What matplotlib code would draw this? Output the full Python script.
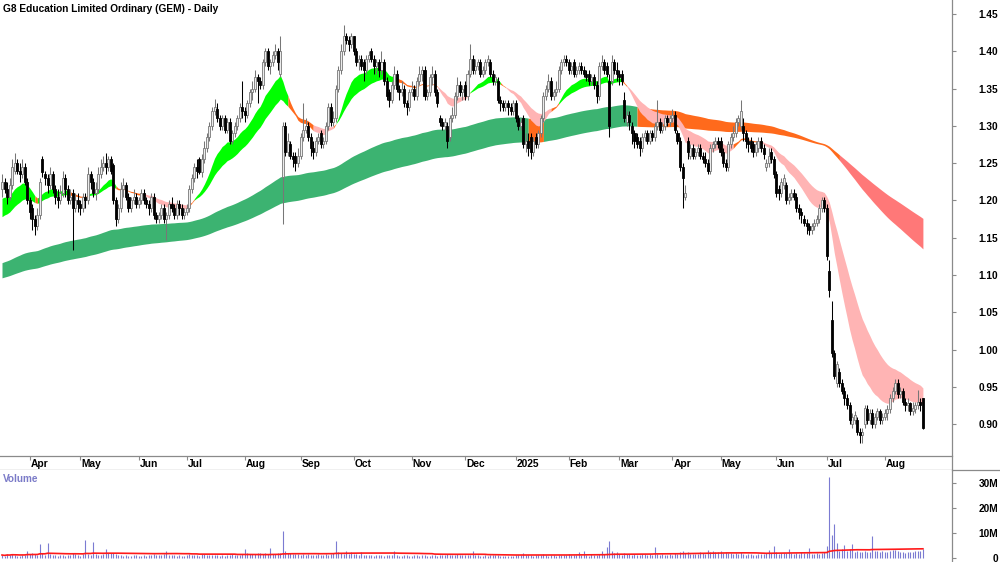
import numpy as np
import pandas as pd
import matplotlib
matplotlib.use("Agg")
import matplotlib.pyplot as plt
from matplotlib.lines import Line2D
from matplotlib import transforms

plt.rcParams['font.family'] = ['Liberation Sans', 'DejaVu Sans']

# ---------------- data ----------------
title = "G8 Education Limited Ordinary (GEM) - Daily"
start_date = "2024-03-14"
end_date = "2025-08-22"
holidays = ['2024-03-29', '2024-04-01', '2024-04-25', '2024-06-10', '2024-12-25', '2024-12-26',
            '2025-01-01', '2025-01-27', '2025-04-18', '2025-04-21', '2025-04-25', '2025-06-09']

closes = [
    1.225, 1.215, 1.205, 1.22, 1.245, 1.25, 1.24, 1.235, 1.245, 1.225,
    1.20, 1.185, 1.175, 1.165, 1.18, 1.225, 1.238, 1.23, 1.22, 1.235,
    1.215, 1.205, 1.20, 1.21, 1.23, 1.215, 1.20, 1.205, 1.19, 1.20,
    1.195, 1.19, 1.205, 1.20, 1.235, 1.225, 1.21, 1.215, 1.235, 1.245,
    1.25, 1.245, 1.255, 1.24, 1.20, 1.175, 1.19, 1.215, 1.22, 1.205,
    1.19, 1.20, 1.205, 1.195, 1.20, 1.21, 1.20, 1.195, 1.19, 1.205,
    1.18, 1.175, 1.18, 1.19, 1.175, 1.18, 1.195, 1.19, 1.18, 1.195,
    1.19, 1.18, 1.185, 1.19, 1.215, 1.23, 1.245, 1.24, 1.238, 1.255,
    1.27, 1.285, 1.30, 1.32, 1.325, 1.31, 1.30, 1.31, 1.295, 1.305,
    1.28, 1.29, 1.30, 1.31, 1.325, 1.32, 1.315, 1.33, 1.345, 1.35,
    1.365, 1.36, 1.355, 1.385, 1.40, 1.38, 1.385, 1.395, 1.40, 1.385,
    1.40, 1.30, 1.265, 1.28, 1.26, 1.255, 1.25, 1.26, 1.285, 1.295,
    1.30, 1.285, 1.27, 1.265, 1.28, 1.285, 1.275, 1.28, 1.30, 1.325,
    1.305, 1.31, 1.35, 1.375, 1.40, 1.42, 1.415, 1.41, 1.42, 1.40,
    1.385, 1.39, 1.38, 1.375, 1.39, 1.395, 1.39, 1.38, 1.385, 1.375,
    1.385, 1.36, 1.34, 1.335, 1.355, 1.37, 1.35, 1.345, 1.35, 1.33,
    1.325, 1.345, 1.35, 1.34, 1.36, 1.37, 1.375, 1.34, 1.345, 1.365,
    1.37, 1.345, 1.33, 1.305, 1.30, 1.305, 1.28, 1.31, 1.315, 1.34,
    1.355, 1.345, 1.35, 1.34, 1.37, 1.39, 1.375, 1.38, 1.385, 1.37,
    1.375, 1.385, 1.39, 1.37, 1.36, 1.365, 1.335, 1.33, 1.325, 1.33,
    1.325, 1.32, 1.33, 1.31, 1.30, 1.305, 1.275, 1.28, 1.27, 1.265,
    1.28, 1.275, 1.29, 1.31, 1.34, 1.35, 1.36, 1.34, 1.345, 1.35,
    1.375, 1.385, 1.39, 1.385, 1.375, 1.38, 1.37, 1.375, 1.38, 1.375,
    1.37, 1.365, 1.36, 1.365, 1.355, 1.34, 1.38, 1.385, 1.375, 1.37,
    1.30, 1.385, 1.375, 1.37, 1.365, 1.36, 1.31, 1.315, 1.305, 1.29,
    1.28, 1.275, 1.27, 1.285, 1.29, 1.28, 1.29, 1.285, 1.30, 1.305,
    1.295, 1.30, 1.31, 1.305, 1.31, 1.315, 1.295, 1.28, 1.245, 1.23,
    1.21, 1.265, 1.27, 1.26, 1.265, 1.27, 1.26, 1.255, 1.25, 1.24,
    1.27, 1.275, 1.28, 1.275, 1.265, 1.25, 1.245, 1.275, 1.285, 1.29,
    1.305, 1.31, 1.32, 1.29, 1.28, 1.275, 1.27, 1.265, 1.275, 1.28,
    1.27, 1.262, 1.25, 1.26, 1.255, 1.235, 1.21, 1.21, 1.225, 1.23,
    1.20, 1.205, 1.21, 1.205, 1.19, 1.185, 1.18, 1.17, 1.165, 1.16,
    1.165, 1.17, 1.175, 1.19, 1.20, 1.19, 1.125, 1.08, 0.995, 0.965,
    0.98, 0.955, 0.945, 0.935, 0.925, 0.905, 0.91, 0.912, 0.89, 0.885,
    0.89, 0.922, 0.905, 0.915, 0.90, 0.91, 0.918, 0.905, 0.91, 0.915,
    0.92, 0.935, 0.945, 0.955, 0.94, 0.945, 0.93, 0.925, 0.928, 0.918,
    0.922, 0.925, 0.93, 0.925, 0.895,
]

opens = [
    1.215, 1.225, 1.215, 1.205, 1.22, 1.24, 1.25, 1.24, 1.235, 1.245,
    1.225, 1.20, 1.19, 1.175, 1.165, 1.18, 1.255, 1.235, 1.23, 1.22,
    1.235, 1.215, 1.205, 1.20, 1.21, 1.23, 1.215, 1.20, 1.21, 1.19,
    1.20, 1.195, 1.19, 1.205, 1.20, 1.235, 1.225, 1.21, 1.215, 1.235,
    1.245, 1.25, 1.245, 1.255, 1.248, 1.20, 1.175, 1.19, 1.215, 1.22,
    1.205, 1.19, 1.20, 1.205, 1.195, 1.20, 1.21, 1.20, 1.195, 1.19,
    1.205, 1.18, 1.175, 1.18, 1.19, 1.175, 1.18, 1.195, 1.19, 1.18,
    1.195, 1.19, 1.18, 1.185, 1.19, 1.215, 1.23, 1.245, 1.255, 1.238,
    1.255, 1.27, 1.285, 1.30, 1.32, 1.322, 1.31, 1.30, 1.31, 1.295,
    1.305, 1.28, 1.29, 1.30, 1.31, 1.325, 1.32, 1.315, 1.33, 1.345,
    1.35, 1.365, 1.36, 1.355, 1.385, 1.40, 1.38, 1.385, 1.395, 1.40,
    1.37, 1.232, 1.30, 1.265, 1.275, 1.26, 1.26, 1.25, 1.26, 1.285,
    1.295, 1.30, 1.285, 1.27, 1.265, 1.28, 1.29, 1.275, 1.28, 1.30,
    1.325, 1.305, 1.31, 1.35, 1.375, 1.40, 1.42, 1.415, 1.41, 1.42,
    1.40, 1.385, 1.39, 1.385, 1.375, 1.39, 1.40, 1.39, 1.38, 1.385,
    1.375, 1.385, 1.36, 1.345, 1.335, 1.355, 1.37, 1.35, 1.345, 1.35,
    1.33, 1.325, 1.345, 1.35, 1.34, 1.36, 1.37, 1.375, 1.34, 1.345,
    1.365, 1.37, 1.345, 1.31, 1.305, 1.30, 1.30, 1.285, 1.31, 1.315,
    1.34, 1.355, 1.345, 1.355, 1.34, 1.37, 1.39, 1.375, 1.38, 1.385,
    1.37, 1.375, 1.385, 1.385, 1.37, 1.36, 1.36, 1.335, 1.33, 1.325,
    1.33, 1.325, 1.32, 1.33, 1.31, 1.30, 1.31, 1.275, 1.28, 1.285,
    1.265, 1.285, 1.275, 1.29, 1.31, 1.34, 1.35, 1.36, 1.34, 1.345,
    1.35, 1.375, 1.385, 1.39, 1.385, 1.375, 1.385, 1.37, 1.375, 1.38,
    1.375, 1.37, 1.37, 1.36, 1.365, 1.355, 1.34, 1.38, 1.385, 1.38,
    1.36, 1.36, 1.385, 1.375, 1.37, 1.37, 1.335, 1.305, 1.315, 1.30,
    1.29, 1.285, 1.28, 1.27, 1.285, 1.29, 1.28, 1.29, 1.285, 1.30,
    1.305, 1.295, 1.30, 1.31, 1.305, 1.31, 1.315, 1.29, 1.28, 1.245,
    1.205, 1.28, 1.26, 1.27, 1.26, 1.265, 1.27, 1.26, 1.255, 1.25,
    1.24, 1.27, 1.275, 1.28, 1.28, 1.265, 1.25, 1.245, 1.275, 1.285,
    1.29, 1.305, 1.30, 1.30, 1.29, 1.28, 1.28, 1.275, 1.265, 1.27,
    1.28, 1.27, 1.245, 1.25, 1.265, 1.255, 1.235, 1.215, 1.21, 1.22,
    1.22, 1.20, 1.205, 1.21, 1.205, 1.19, 1.185, 1.175, 1.17, 1.165,
    1.16, 1.165, 1.17, 1.175, 1.19, 1.20, 1.19, 1.105, 1.04, 0.995,
    0.955, 0.97, 0.955, 0.945, 0.935, 0.925, 0.90, 0.905, 0.905, 0.89,
    0.885, 0.90, 0.92, 0.905, 0.915, 0.90, 0.91, 0.918, 0.905, 0.91,
    0.915, 0.92, 0.935, 0.945, 0.955, 0.94, 0.945, 0.93, 0.925, 0.928,
    0.918, 0.92, 0.925, 0.93, 0.935,
]

highs = [
    1.235, 1.23, 1.225, 1.23, 1.255, 1.264, 1.255, 1.25, 1.255, 1.25,
    1.23, 1.205, 1.195, 1.18, 1.19, 1.23, 1.26, 1.24, 1.235, 1.245,
    1.24, 1.22, 1.215, 1.22, 1.24, 1.235, 1.22, 1.215, 1.215, 1.21,
    1.21, 1.20, 1.21, 1.21, 1.245, 1.24, 1.23, 1.225, 1.245, 1.255,
    1.26, 1.264, 1.26, 1.26, 1.25, 1.205, 1.195, 1.225, 1.23, 1.225,
    1.21, 1.205, 1.215, 1.21, 1.205, 1.215, 1.215, 1.205, 1.20, 1.21,
    1.21, 1.185, 1.185, 1.195, 1.195, 1.185, 1.20, 1.205, 1.195, 1.20,
    1.20, 1.195, 1.19, 1.195, 1.22, 1.235, 1.25, 1.255, 1.258, 1.262,
    1.28, 1.29, 1.305, 1.325, 1.336, 1.33, 1.315, 1.315, 1.315, 1.31,
    1.31, 1.295, 1.305, 1.315, 1.33, 1.36, 1.325, 1.335, 1.35, 1.36,
    1.375, 1.37, 1.365, 1.39, 1.405, 1.405, 1.39, 1.40, 1.41, 1.405,
    1.421, 1.305, 1.305, 1.29, 1.28, 1.265, 1.265, 1.27, 1.29, 1.33,
    1.31, 1.305, 1.29, 1.28, 1.285, 1.29, 1.295, 1.285, 1.305, 1.33,
    1.33, 1.32, 1.355, 1.38, 1.41, 1.435, 1.425, 1.42, 1.425, 1.42,
    1.405, 1.395, 1.395, 1.39, 1.395, 1.40, 1.405, 1.395, 1.39, 1.39,
    1.40, 1.39, 1.365, 1.35, 1.36, 1.38, 1.375, 1.355, 1.36, 1.355,
    1.335, 1.35, 1.36, 1.355, 1.365, 1.38, 1.38, 1.38, 1.35, 1.37,
    1.38, 1.375, 1.35, 1.315, 1.31, 1.31, 1.305, 1.315, 1.325, 1.345,
    1.365, 1.36, 1.355, 1.36, 1.375, 1.41, 1.395, 1.39, 1.39, 1.39,
    1.38, 1.39, 1.395, 1.39, 1.375, 1.37, 1.365, 1.34, 1.335, 1.335,
    1.335, 1.33, 1.335, 1.335, 1.315, 1.31, 1.315, 1.29, 1.29, 1.29,
    1.285, 1.29, 1.295, 1.315, 1.345, 1.355, 1.37, 1.365, 1.35, 1.36,
    1.38, 1.39, 1.395, 1.395, 1.39, 1.385, 1.39, 1.38, 1.385, 1.385,
    1.38, 1.375, 1.375, 1.37, 1.37, 1.36, 1.385, 1.395, 1.39, 1.385,
    1.37, 1.395, 1.39, 1.385, 1.375, 1.375, 1.345, 1.32, 1.32, 1.305,
    1.295, 1.29, 1.285, 1.29, 1.295, 1.295, 1.295, 1.295, 1.305, 1.335,
    1.31, 1.305, 1.315, 1.315, 1.315, 1.322, 1.32, 1.295, 1.285, 1.25,
    1.22, 1.285, 1.275, 1.275, 1.27, 1.275, 1.275, 1.265, 1.265, 1.255,
    1.275, 1.28, 1.285, 1.285, 1.285, 1.27, 1.255, 1.28, 1.29, 1.30,
    1.31, 1.315, 1.335, 1.31, 1.295, 1.285, 1.285, 1.28, 1.28, 1.285,
    1.285, 1.275, 1.255, 1.27, 1.27, 1.26, 1.24, 1.22, 1.23, 1.235,
    1.225, 1.21, 1.215, 1.215, 1.21, 1.195, 1.19, 1.18, 1.175, 1.17,
    1.17, 1.175, 1.18, 1.195, 1.205, 1.205, 1.195, 1.12, 1.065, 1.0,
    0.985, 0.975, 0.96, 0.95, 0.94, 0.93, 0.915, 0.918, 0.91, 0.895,
    0.895, 0.925, 0.925, 0.92, 0.92, 0.915, 0.922, 0.92, 0.915, 0.92,
    0.925, 0.94, 0.95, 0.96, 0.96, 0.95, 0.948, 0.935, 0.935, 0.93,
    0.93, 0.93, 0.946, 0.935, 0.935,
]

lows = [
    1.205, 1.21, 1.195, 1.20, 1.215, 1.235, 1.235, 1.225, 1.23, 1.22,
    1.195, 1.175, 1.16, 1.154, 1.16, 1.175, 1.232, 1.22, 1.21, 1.215,
    1.21, 1.195, 1.19, 1.195, 1.205, 1.205, 1.195, 1.195, 1.134, 1.185,
    1.185, 1.18, 1.185, 1.19, 1.195, 1.215, 1.205, 1.20, 1.21, 1.23,
    1.24, 1.235, 1.24, 1.235, 1.195, 1.165, 1.17, 1.185, 1.205, 1.20,
    1.185, 1.185, 1.195, 1.19, 1.19, 1.195, 1.195, 1.19, 1.18, 1.185,
    1.175, 1.17, 1.17, 1.175, 1.17, 1.147, 1.175, 1.185, 1.175, 1.175,
    1.18, 1.175, 1.175, 1.18, 1.185, 1.21, 1.225, 1.23, 1.235, 1.232,
    1.25, 1.265, 1.28, 1.295, 1.315, 1.305, 1.295, 1.295, 1.29, 1.29,
    1.275, 1.275, 1.285, 1.295, 1.305, 1.31, 1.305, 1.31, 1.325, 1.335,
    1.345, 1.33, 1.35, 1.35, 1.38, 1.375, 1.37, 1.38, 1.39, 1.375,
    1.365, 1.168, 1.26, 1.26, 1.255, 1.245, 1.24, 1.245, 1.255, 1.28,
    1.29, 1.28, 1.26, 1.255, 1.26, 1.275, 1.27, 1.27, 1.275, 1.295,
    1.30, 1.30, 1.305, 1.345, 1.37, 1.395, 1.41, 1.40, 1.405, 1.395,
    1.38, 1.375, 1.375, 1.36, 1.37, 1.385, 1.385, 1.37, 1.37, 1.365,
    1.37, 1.355, 1.335, 1.325, 1.33, 1.35, 1.345, 1.335, 1.34, 1.325,
    1.315, 1.32, 1.34, 1.335, 1.335, 1.355, 1.36, 1.335, 1.335, 1.34,
    1.355, 1.34, 1.325, 1.30, 1.295, 1.295, 1.27, 1.28, 1.305, 1.31,
    1.335, 1.34, 1.335, 1.335, 1.335, 1.365, 1.37, 1.37, 1.375, 1.365,
    1.365, 1.37, 1.38, 1.365, 1.355, 1.355, 1.33, 1.32, 1.32, 1.32,
    1.315, 1.315, 1.315, 1.305, 1.295, 1.295, 1.27, 1.265, 1.26, 1.255,
    1.26, 1.27, 1.27, 1.285, 1.305, 1.335, 1.345, 1.335, 1.335, 1.34,
    1.345, 1.37, 1.38, 1.38, 1.37, 1.37, 1.365, 1.365, 1.37, 1.37,
    1.365, 1.36, 1.355, 1.355, 1.35, 1.33, 1.335, 1.375, 1.37, 1.365,
    1.285, 1.355, 1.37, 1.36, 1.355, 1.355, 1.305, 1.30, 1.295, 1.275,
    1.27, 1.27, 1.26, 1.265, 1.28, 1.275, 1.275, 1.28, 1.28, 1.295,
    1.29, 1.29, 1.295, 1.30, 1.30, 1.305, 1.29, 1.275, 1.24, 1.19,
    1.20, 1.255, 1.255, 1.255, 1.255, 1.26, 1.255, 1.25, 1.245, 1.235,
    1.235, 1.265, 1.27, 1.27, 1.26, 1.245, 1.24, 1.24, 1.27, 1.28,
    1.285, 1.30, 1.295, 1.28, 1.27, 1.265, 1.265, 1.258, 1.26, 1.265,
    1.265, 1.255, 1.24, 1.245, 1.25, 1.23, 1.205, 1.20, 1.205, 1.215,
    1.195, 1.195, 1.20, 1.20, 1.185, 1.175, 1.17, 1.165, 1.155, 1.153,
    1.155, 1.16, 1.165, 1.17, 1.185, 1.185, 1.12, 1.07, 0.99, 0.96,
    0.95, 0.95, 0.94, 0.925, 0.92, 0.90, 0.895, 0.90, 0.885, 0.875,
    0.875, 0.895, 0.90, 0.90, 0.895, 0.895, 0.905, 0.90, 0.90, 0.905,
    0.905, 0.915, 0.93, 0.94, 0.935, 0.935, 0.925, 0.918, 0.918, 0.912,
    0.912, 0.915, 0.92, 0.918, 0.893,
]

# daily volume, millions of shares
volumes = [
    1.2, 0.9, 1.5, 1.1, 1.8, 1.3, 1.0, 0.9, 1.4, 1.2,
    2.7, 1.5, 1.9, 1.6, 1.2, 5.6, 2.0, 1.4, 6.0, 1.7,
    1.3, 1.1, 1.0, 1.4, 1.2, 0.9, 1.1, 1.3, 2.2, 1.5,
    1.2, 1.0, 1.6, 7.3, 1.8, 1.4, 6.4, 1.5, 1.2, 1.3,
    1.6, 3.6, 1.9, 2.2, 2.1, 1.8, 1.3, 1.2, 1.0, 1.1,
    1.0, 0.9, 1.2, 1.1, 0.8, 1.0, 1.3, 0.9, 1.1, 1.4,
    1.5, 1.3, 1.2, 1.1, 1.6, 3.0, 1.4, 1.2, 1.3, 1.0,
    1.1, 1.0, 0.9, 1.4, 1.6, 1.2, 1.1, 1.3, 1.0, 1.5,
    1.6, 1.2, 1.4, 1.1, 1.3, 1.2, 1.0, 1.1, 0.9, 1.2,
    1.3, 1.5, 1.1, 1.2, 1.4, 1.6, 3.6, 1.9, 1.5, 1.6,
    1.8, 2.1, 1.9, 1.7, 2.0, 1.8, 4.0, 1.7, 1.6, 2.2,
    2.0, 11.0, 3.0, 2.2, 1.9, 1.8, 1.6, 1.7, 1.4, 1.5,
    1.3, 1.6, 1.4, 1.2, 1.3, 1.5, 1.1, 1.4, 1.6, 1.3,
    1.5, 2.0, 7.0, 2.3, 2.0, 1.8, 3.0, 1.6, 2.4, 1.7,
    1.5, 1.4, 2.6, 1.3, 1.2, 1.1, 1.4, 1.0, 1.2, 1.3,
    1.1, 1.0, 1.2, 1.4, 1.1, 2.7, 1.3, 1.0, 0.9, 1.1,
    1.2, 1.0, 0.9, 1.1, 1.3, 1.0, 1.2, 1.1, 0.8, 1.0,
    1.1, 1.3, 1.0, 1.2, 1.4, 1.1, 1.5, 1.2, 1.3, 1.4,
    1.6, 1.2, 1.3, 1.1, 1.2, 1.4, 3.0, 1.3, 1.1, 1.0,
    0.9, 1.1, 1.0, 1.2, 1.3, 1.1, 1.4, 1.0, 0.9, 0.8,
    0.7, 0.9, 1.0, 1.2, 1.1, 1.3, 2.0, 1.2, 1.4, 1.1,
    1.0, 1.3, 1.2, 1.1, 1.5, 1.3, 1.0, 1.2, 1.1, 0.9,
    1.2, 1.4, 1.1, 1.3, 1.6, 1.2, 1.4, 1.1, 2.4, 1.3,
    2.7, 1.2, 1.0, 1.5, 1.3, 1.4, 1.6, 3.0, 1.5, 4.5,
    7.0, 2.8, 1.9, 2.5, 1.6, 1.4, 2.1, 1.8, 1.5, 1.3,
    1.6, 1.4, 1.2, 1.5, 1.7, 1.3, 1.8, 1.4, 4.4, 1.6,
    1.3, 1.5, 1.2, 1.4, 1.6, 1.3, 2.0, 1.8, 2.4, 2.8,
    2.1, 2.5, 1.6, 1.8, 1.5, 1.7, 2.3, 1.9, 1.6, 3.3,
    2.6, 2.9, 2.4, 2.5, 2.7, 2.2, 2.4, 1.9, 2.0, 1.8,
    2.2, 1.7, 2.5, 1.6, 1.4, 1.5, 1.8, 1.3, 1.2, 1.6,
    1.5, 1.7, 2.0, 3.2, 1.9, 5.0, 2.3, 1.8, 1.9, 2.1,
    1.9, 3.7, 2.2, 1.8, 2.0, 1.7, 2.5, 1.9, 2.2, 4.0,
    1.8, 1.6, 2.0, 1.7, 2.1, 2.4, 4.7, 32.4, 9.3, 13.7,
    6.0, 3.0, 3.6, 5.3, 3.0, 3.6, 5.6, 2.6, 3.0, 2.5,
    2.3, 2.9, 2.4, 2.6, 8.7, 2.7, 2.9, 2.4, 3.0, 2.6,
    2.3, 2.8, 3.2, 3.4, 2.7, 2.4, 2.5, 2.2, 2.6, 2.4,
    2.5, 2.7, 2.9, 3.0, 3.7,
]

# moving-average ribbon settings (periods) and their starting values at the left edge
short_spans = [16, 19, 22, 25, 28, 31]
short_seeds = [1.200, 1.195, 1.190, 1.185, 1.180, 1.175]
long_spans = [150, 165, 180, 195, 210, 230]
long_seeds = [1.115, 1.111, 1.107, 1.103, 1.099, 1.095]
volume_avg_window = 60

price_ticks = [0.90, 0.95, 1.00, 1.05, 1.10, 1.15, 1.20, 1.25, 1.30, 1.35, 1.40, 1.45]
volume_ticks = [0, 10, 20, 30]
volume_tick_labels = ['0', '10M', '20M', '30M']

# ---------------- preparation ----------------
dates = pd.bdate_range(start_date, end_date)
dates = dates[~dates.isin(pd.to_datetime(holidays))]
n = min(len(dates), len(closes), len(opens), len(highs), len(lows), len(volumes))
dates = dates[:n]
o = np.array(opens[:n]); c = np.array(closes[:n])
h = np.array(highs[:n]); l = np.array(lows[:n])
v = np.array(volumes[:n])
x = np.arange(n)


def ribbon(spans, seeds):
    rows = []
    for sp, sd in zip(spans, seeds):
        s = pd.Series(np.r_[sd, c]).ewm(span=sp, adjust=False).mean().values[1:]
        rows.append(s)
    return np.array(rows)


short_r = ribbon(short_spans, short_seeds)
long_r = ribbon(long_spans, long_seeds)


def order_state(r):
    d = np.diff(r, axis=0)
    bull = (d < 0).all(axis=0)     # fastest on top
    bear = (d > 0).all(axis=0)     # fastest at bottom
    return np.where(bull, 0, np.where(bear, 2, 1))


short_state = order_state(short_r)
long_state = order_state(long_r)
# long ribbon only counts as bullish while the fast average stays clear above it
above = short_r[0] > long_r.max(axis=0)
long_state = np.where((long_state == 0) & ~above, 1, long_state)


def draw_ribbon(ax, r, state, cols):
    lo = r.min(axis=0); hi = r.max(axis=0)
    a = 0
    while a < n:
        b = a
        while b + 1 < n and state[b + 1] == state[a]:
            b += 1
        s0 = max(a - 1, 0)
        ax.fill_between(x[s0:b + 1], lo[s0:b + 1], hi[s0:b + 1], color=cols[state[a]],
                        lw=0, zorder=2)
        a = b + 1


# ---------------- figure ----------------
W, H = 1000, 562
fig = plt.figure(figsize=(W / 100, H / 100), dpi=100)


def rect(x0, y0, x1, y1):
    return [x0 / W, 1 - y1 / H, (x1 - x0) / W, (y1 - y0) / H]


AXC = '#8a8a8a'
XL = (-0.79, 375.5)
ORANGE = '#ff6a1c'

axp = fig.add_axes(rect(0, 0, 952, 455))
axd = fig.add_axes(rect(0, 455.5, 952, 469.5))
axv = fig.add_axes(rect(0, 470, 952, 562))

# price panel
draw_ribbon(axp, long_r, long_state, ['#3cb371', ORANGE, '#ff7878'])
draw_ribbon(axp, short_r, short_state, ['#00ff00', ORANGE, '#ffb4b4'])

up = c >= o
axp.vlines(x[up], l[up], h[up], color='#777777', lw=0.75, zorder=3)
axp.vlines(x[~up], l[~up], h[~up], color='black', lw=0.75, zorder=3)
body_lo = np.minimum(o, c)
body_h = np.maximum(np.abs(c - o), 0.0018)
axp.bar(x[up], body_h[up], bottom=body_lo[up], width=0.8, color='#ececec',
        edgecolor='#777777', linewidth=0.6, zorder=4)
axp.bar(x[~up], body_h[~up], bottom=body_lo[~up], width=0.8, color='black',
        edgecolor='black', linewidth=0.6, zorder=4)

axp.set_xlim(*XL)
axp.set_ylim(0.8585, 1.4688)
axp.set_xticks([])
axp.yaxis.tick_right()
axp.set_yticks(price_ticks)
axp.set_yticklabels([f"{t:.2f}" for t in price_ticks])
for sp in ['top', 'left', 'bottom']:
    axp.spines[sp].set_visible(False)
axp.spines['right'].set_color(AXC)
axp.spines['right'].set_linewidth(0.9)
axp.tick_params(axis='y', direction='out', length=3, width=0.8, color=AXC,
                labelsize=7.3, pad=30.2, labelcolor='black')
for t in axp.get_yticklabels():
    t.set_horizontalalignment('right')
    t.set_fontweight('bold')

# date strip
month_pos, month_lab = [], []
for i in range(1, n):
    if dates[i].month != dates[i - 1].month:
        month_pos.append(i)
        month_lab.append(str(dates[i].year) if dates[i].month == 1 else dates[i].strftime('%b'))
axd.set_xlim(*XL)
axd.set_ylim(0, 1)
axd.set_yticks([])
axd.set_xticks(month_pos)
axd.tick_params(axis='x', top=True, bottom=False, direction='in', length=3, width=0.8,
                color=AXC, labelbottom=False)
axd.spines['left'].set_visible(False)
for sp in ['top', 'bottom', 'right']:
    axd.spines[sp].set_color(AXC)
    axd.spines[sp].set_linewidth(0.9)
off = transforms.offset_copy(axd.transData, fig=fig, x=1.0, y=0, units='dots')
blend = transforms.blended_transform_factory(off, axd.transAxes)
for p, lab in zip(month_pos, month_lab):
    axd.text(p, 0.42, lab, transform=blend, ha='left', va='center', fontsize=7.4,
             fontweight='bold', color='black')
axd.patch.set_alpha(0)
fig.add_artist(Line2D([952 / W, 1.0], [1 - 469.5 / H, 1 - 469.5 / H], transform=fig.transFigure,
                      color=AXC, lw=0.9))

# volume panel
axv.vlines(x, 0, v, color='#7b7bd2', lw=0.8, zorder=2)
vol_ma = pd.Series(v).rolling(volume_avg_window, min_periods=1).mean().values
axv.plot(x, vol_ma, color='#ff1a1a', lw=1.2, zorder=3)
axv.set_xlim(*XL)
axv.set_ylim(-1.6, 35.2)
axv.set_xticks([])
axv.yaxis.tick_right()
axv.set_yticks(volume_ticks)
axv.set_yticklabels(volume_tick_labels)
for sp in ['top', 'left', 'bottom']:
    axv.spines[sp].set_visible(False)
axv.spines['right'].set_color(AXC)
axv.spines['right'].set_linewidth(0.9)
axv.tick_params(axis='y', direction='out', length=3, width=0.8, color=AXC,
                labelsize=7.3, pad=30.2, labelcolor='black')
for t in axv.get_yticklabels():
    t.set_horizontalalignment('right')
    t.set_fontweight('bold')

fig.text(3 / W, 1 - 478.5 / H, 'Volume', fontsize=7.2, fontweight='bold', color='#7b7bc8',
         ha='left', va='center')
fig.text(3 / W, 1 - 8.5 / H, title, fontsize=7.3, fontweight='bold', color='black',
         ha='left', va='center')

fig.savefig('out.png', dpi=100)
